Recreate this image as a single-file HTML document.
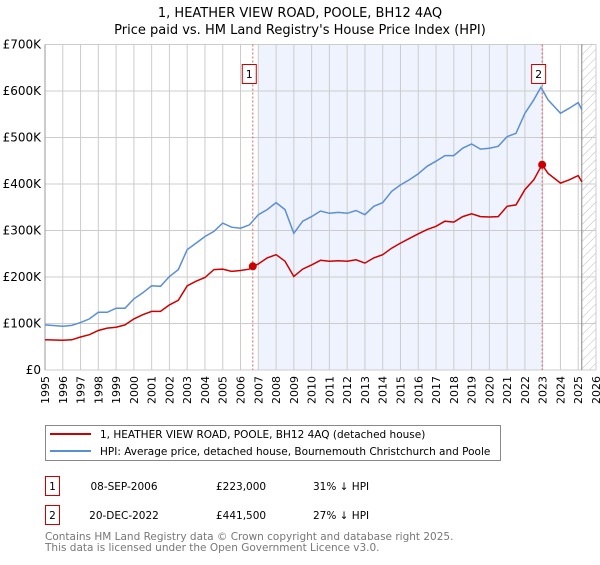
<!DOCTYPE html>
<html><head><meta charset="utf-8"><style>
body{margin:0;background:#fff;font-family:"Liberation Sans","DejaVu Sans",sans-serif;}
svg text{font-family:"DejaVu Sans","Liberation Sans",sans-serif;}
</style></head><body>
<svg id="c" width="600" height="560" xmlns="http://www.w3.org/2000/svg">
<defs><pattern id="hatch" width="6" height="6" patternUnits="userSpaceOnUse" patternTransform="rotate(45)"><line x1="0" y1="0" x2="0" y2="6" stroke="#bbb" stroke-width="1"/></pattern></defs>
<text x="300" y="17" text-anchor="middle" font-size="13">1, HEATHER VIEW ROAD, POOLE, BH12 4AQ</text>
<text x="300" y="34" text-anchor="middle" font-size="13">Price paid vs. HM Land Registry's House Price Index (HPI)</text>
<g id="plot"></g>
<g>
<rect x="45.5" y="425.5" width="455" height="35" fill="#fff" stroke="#888"/>
<line x1="50" y1="434" x2="91" y2="434" stroke="#cc0000" stroke-width="2"/>
<text x="100" y="438" font-size="10.5">1, HEATHER VIEW ROAD, POOLE, BH12 4AQ (detached house)</text>
<line x1="50" y1="451" x2="91" y2="451" stroke="#5b8fd4" stroke-width="2"/>
<text x="100" y="455" font-size="10.5">HPI: Average price, detached house, Bournemouth Christchurch and Poole</text>
</g>
<g font-size="10.5">
<rect x="45.5" y="476.5" width="14" height="19" fill="#fff" stroke="#cc0000"/>
<text x="52.5" y="490" text-anchor="middle">1</text>
<text x="124" y="490" text-anchor="middle">08-SEP-2006</text>
<text x="216" y="490">£223,000</text>
<text x="313" y="490">31% ↓ HPI</text>
<rect x="45.5" y="505.5" width="14" height="19" fill="#fff" stroke="#cc0000"/>
<text x="52.5" y="519" text-anchor="middle">2</text>
<text x="124" y="519" text-anchor="middle">20-DEC-2022</text>
<text x="216" y="519">£441,500</text>
<text x="313" y="519">27% ↓ HPI</text>
</g>
<text x="45" y="540" font-size="10.5" fill="#777">Contains HM Land Registry data © Crown copyright and database right 2025.</text>
<text x="45" y="551" font-size="10.5" fill="#777">This data is licensed under the Open Government Licence v3.0.</text>
</svg>
<script>
const hpiYears=[1995,1996,1996.5,1997,1997.5,1998,1998.5,1999,1999.5,2000,2000.5,2001,2001.5,2002,2002.5,2003,2003.5,2004,2004.5,2005,2005.5,2006,2006.5,2007,2007.5,2008,2008.5,2009,2009.5,2010,2010.5,2011,2011.5,2012,2012.5,2013,2013.5,2014,2014.5,2015,2015.5,2016,2016.5,2017,2017.5,2018,2018.5,2019,2019.5,2020,2020.5,2021,2021.5,2022,2022.5,2022.9,2023.3,2024,2024.5,2025,2025.2];
const hpiValues=[97,94,96,102,110,124,124,133,133,153,166,181,180,201,216,259,273,287,298,316,307,305,312,334,345,360,345,294,320,330,342,337,339,337,343,334,352,360,384,398,409,422,438,449,461,461,477,486,475,477,481,502,509,552,581,608,581,552,563,575,560];
const redYears=[1995,1996,1996.5,1997,1997.5,1998,1998.5,1999,1999.5,2000,2000.5,2001,2001.5,2002,2002.5,2003,2003.5,2004,2004.5,2005,2005.5,2006,2006.5,2006.69,2007,2007.5,2008,2008.5,2009,2009.5,2010,2010.5,2011,2011.5,2012,2012.5,2013,2013.5,2014,2014.5,2015,2015.5,2016,2016.5,2017,2017.5,2018,2018.5,2019,2019.5,2020,2020.5,2021,2021.5,2022,2022.5,2022.97,2023.3,2024,2024.5,2025,2025.2];
const redValues=[65,64,65,71,76,85,90,92,97,110,119,126,126,140,150,181,191,199,216,217,212,214,217,223,228,241,248,234,201,217,226,236,234,235,234,237,230,241,248,262,273,283,293,302,309,320,318,330,336,330,329,330,352,355,388,409,441.5,423,402,409,418,405];
const saleYears=[2006.69,2022.97];
const saleValues=[223,441.5];
const saleLabels=["1","2"];
const yTicks=[0,100,200,300,400,500,600,700];
const yTickLabels=["£0","£100K","£200K","£300K","£400K","£500K","£600K","£700K"];
const xTicks=[];for(let y=1995;y<=2026;y++)xTicks.push(y);

const X0=45,X1=596,Y0=370,Y1=44.5;
const x=v=>X0+(v-1995)/(2026-1995)*(X1-X0);
const y=v=>Y0-v/700*(Y0-Y1);
const NS="http://www.w3.org/2000/svg";
const g=document.getElementById('plot');
function mk(t,a,p){const e=document.createElementNS(NS,t);for(const k in a)e.setAttribute(k,a[k]);(p||g).appendChild(e);return e;}
let r=mk('rect',{x:x(2007),y:Y1,width:x(saleYears[1])-x(2007),height:Y0-Y1,fill:'#eef3fd'});

let h=mk('rect',{x:x(2025.2),y:Y1,width:X1-x(2025.2),height:Y0-Y1,fill:'url(#hatch)'});

xTicks.forEach(t=>{const l=mk('line',{x1:x(t),x2:x(t),y1:Y1,y2:Y0,stroke:'#ccc'});

const tx=mk('text',{x:0,y:0,'font-size':11,'text-anchor':'end',transform:`translate(${x(t)+4},${Y0+6}) rotate(-90)`});tx.textContent=t;
});
yTicks.forEach((t,i)=>{const l=mk('line',{x1:X0,x2:X1,y1:y(t),y2:y(t),stroke:'#ccc'});

const tx=mk('text',{x:X0-4,y:y(t)+4,'font-size':12,'text-anchor':'end'});tx.textContent=yTickLabels[i];
});
let vl=mk('line',{x1:x(2025.2),x2:x(2025.2),y1:Y1,y2:Y0,stroke:'#888'});

let ax=mk('line',{x1:X0,x2:X0,y1:Y1,y2:Y0,stroke:'#999'});

saleYears.forEach((s,i)=>{const l=mk('line',{x1:x(s),x2:x(s),y1:Y1,y2:Y0,stroke:'#e06060','stroke-dasharray':'2,2'});
});
const pts=(xs,vs)=>xs.map((v,i)=>x(v).toFixed(1)+','+y(vs[i]).toFixed(1)).join(' ');
let hp=mk('polyline',{points:pts(hpiYears,hpiValues),fill:'none',stroke:'#5b8fd4','stroke-width':1.5});

let rp=mk('polyline',{points:pts(redYears,redValues),fill:'none',stroke:'#cc0000','stroke-width':1.5});

saleYears.forEach((s,i)=>{const c=mk('circle',{cx:x(s),cy:y(saleValues[i]),r:4,fill:'#cc0000'});

const b=mk('rect',{x:x(s)-10.5,y:64.5,width:14,height:19,fill:'#fff',stroke:'#cc0000'});

const t=mk('text',{x:x(s)-3.5,y:78,'font-size':11,'text-anchor':'middle'});t.textContent=saleLabels[i];
});
</script>
</body></html>
